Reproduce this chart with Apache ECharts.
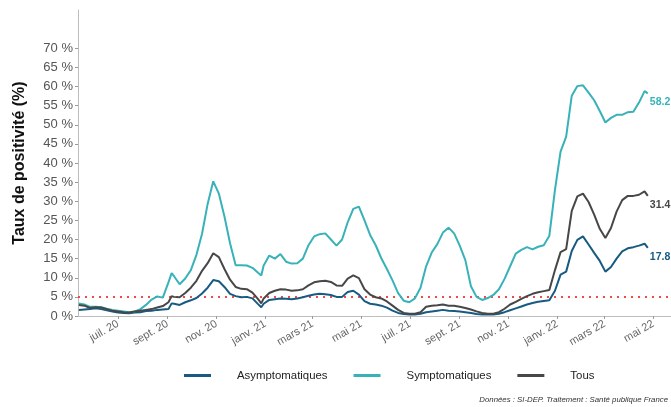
<!DOCTYPE html>
<html><head><meta charset="utf-8">
<script src="https://cdn.jsdelivr.net/npm/echarts@6/dist/echarts.min.js"></script>
<style>html,body{margin:0;padding:0;background:#fff}#c{width:671px;height:407px}</style>
</head><body><div id="c"></div>
<script>
const dates = [
'2020-05-13','2020-05-20','2020-05-27','2020-06-03','2020-06-10','2020-06-17','2020-06-24',
'2020-07-01','2020-07-08','2020-07-15','2020-07-22','2020-07-29','2020-08-05','2020-08-12','2020-08-19','2020-08-26',
'2020-09-02','2020-09-06','2020-09-09','2020-09-16','2020-09-23','2020-09-30','2020-10-07','2020-10-14','2020-10-21','2020-10-28',
'2020-11-04','2020-11-11','2020-11-18','2020-11-25','2020-12-02','2020-12-09','2020-12-16','2020-12-23','2020-12-27','2020-12-30',
'2021-01-06','2021-01-13','2021-01-20','2021-01-27','2021-02-03','2021-02-10','2021-02-17','2021-02-24',
'2021-03-03','2021-03-10','2021-03-17','2021-03-24','2021-03-31','2021-04-07','2021-04-14','2021-04-21','2021-04-28',
'2021-05-05','2021-05-12','2021-05-19','2021-05-26','2021-06-02','2021-06-09','2021-06-16','2021-06-23','2021-06-30',
'2021-07-07','2021-07-14','2021-07-21','2021-07-28','2021-08-04','2021-08-11','2021-08-18','2021-08-25',
'2021-09-01','2021-09-08','2021-09-15','2021-09-22','2021-09-29','2021-10-06','2021-10-13','2021-10-20','2021-10-27',
'2021-11-03','2021-11-10','2021-11-17','2021-11-24','2021-12-01','2021-12-08','2021-12-15','2021-12-22','2021-12-29',
'2022-01-05','2022-01-12','2022-01-19','2022-01-26','2022-02-02','2022-02-09','2022-02-16','2022-02-23',
'2022-03-02','2022-03-09','2022-03-16','2022-03-23','2022-03-30','2022-04-06','2022-04-13','2022-04-20','2022-04-24'
];
const asymptomatiques = [
1.6,1.7,1.8, 2.0,1.8,1.5,1.2, 0.9,0.8,0.7,0.9,1.0, 1.3,1.4,1.6,1.7,
1.8,3.3,3.2,2.9,3.6,4.1, 4.7,5.9,7.4,9.4, 9.1,7.6,5.8,5.2, 4.9,5.0,4.6,3.1,2.3,3.2,
4.2,4.4,4.6,4.5, 4.4,4.6,4.9,5.3, 5.6,5.8,5.7,5.5,5.0, 5.0,6.3,6.6,5.6,
3.9,3.2,3.0,2.7, 2.2,1.4,0.8,0.5,0.4, 0.4,0.6,1.0,1.2, 1.4,1.6,1.4,1.3,
1.2,1.0,0.8,0.5,0.4, 0.4,0.4,0.6,1.0, 1.5,2.0,2.5,3.0, 3.4,3.7,3.9,4.1,6.6,
10.8,11.6,17.0,19.9, 20.8,18.7,16.5,14.4, 11.6,12.8,15.0,16.9,17.7, 18.0,18.4,18.9,17.8
];
const symptomatiques = [
3.3,3.0,2.4, 2.4,2.3,1.9,1.6, 1.4,1.2,1.0,1.2,1.8, 2.9,4.3,5.1,4.8,
8.8,11.2,10.4,8.3,9.8,12.0, 16.0,21.5,29.3,35.2, 32.0,26.0,19.0,13.3, 13.3,13.2,12.6,11.3,10.6,13.2,
15.8,15.0,16.2,14.2, 13.7,13.8,15.0,18.5, 20.8,21.4,21.6,20.0,18.4, 20.0,24.5,28.0,28.6,
25.0,21.2,18.5,15.1, 12.3,9.3,6.0,4.0,3.6, 4.6,7.4,13.0,16.6, 18.8,21.8,23.1,21.6,
18.4,14.6,7.8,5.0,4.2, 4.7,5.5,7.0,9.7, 13.0,16.3,17.3,18.0, 17.4,18.1,18.5,21.0,33.0,
43.0,46.9,57.6,60.1, 60.3,58.4,56.4,53.6, 50.6,51.8,52.6,52.6,53.3, 53.4,55.8,58.8,58.2
];
const tous = [
2.9,2.7,2.1, 2.3,2.2,1.8,1.4, 1.2,1.0,0.9,1.2,1.4, 1.6,1.8,2.2,2.6,
3.6,5.2,5.0,4.9,6.0,7.4, 9.2,11.8,13.8,16.4, 15.4,12.3,9.5,7.6, 7.1,7.0,6.1,4.4,3.3,4.6,
6.0,6.6,7.0,6.9, 6.6,6.7,7.0,8.0, 8.8,9.1,9.2,8.9,8.0, 7.9,9.8,10.6,9.9,
7.0,5.6,4.9,4.6, 3.8,2.7,1.6,0.8,0.6, 0.6,1.0,2.4,2.7, 2.8,3.0,2.7,2.7,
2.4,2.1,1.7,1.2,0.8, 0.6,0.6,1.0,1.9, 3.0,3.7,4.5,5.2, 5.8,6.2,6.5,6.8,12.0,
16.7,17.5,27.5,31.3, 32.0,29.8,26.5,22.8, 20.4,23.0,27.3,30.3,31.4, 31.4,31.7,32.6,31.4
];
const seriesNames = ['Asymptomatiques', 'Symptomatiques', 'Tous'];
const seriesColors = ['#175a82', '#38b2b8', '#474747'];
const xTickDates = ['2020-07-01','2020-09-01','2020-11-01','2021-01-01','2021-03-01','2021-05-01',
                    '2021-07-01','2021-09-01','2021-11-01','2022-01-01','2022-03-01','2022-05-01'];
const xTickLabels = ['juil. 20','sept. 20','nov. 20','janv. 21','mars 21','mai 21',
                     'juil. 21','sept. 21','nov. 21','janv. 22','mars 22','mai 22'];
const yTickValues = [0,5,10,15,20,25,30,35,40,45,50,55,60,65,70];
const threshold = 5;
const yAxisTitle = 'Taux de positivité (%)';
const caption = 'Données : SI-DEP. Traitement : Santé publique France';

const ts = s => { const [y, m, d] = s.split('-').map(Number); return Date.UTC(y, m - 1, d); };
const xTickTs = xTickDates.map(ts);
const toData = vals => dates.map((d, i) => [ts(d), vals[i]]);
const valuesList = [asymptomatiques, symptomatiques, tous];
const FONT = 'Liberation Sans, Arial, sans-serif';

const chart = echarts.init(document.getElementById('c'), null, { renderer: 'canvas' });
chart.setOption({
  backgroundColor: '#ffffff',
  animation: false,
  textStyle: { fontFamily: FONT },
  title: {
    text: caption, right: 3, top: 396, padding: 0,
    textStyle: { fontSize: 7.8, fontStyle: 'italic', fontWeight: 'normal', color: '#333', fontFamily: FONT }
  },
  grid: { left: 78, right: 0, top: 10, bottom: 91, containLabel: false },
  legend: {
    data: seriesNames, left: 184, top: 370, padding: 0, icon: 'rect', itemWidth: 27, itemHeight: 3, itemGap: 26,
    textStyle: { fontSize: 11.4, color: '#222', padding: [0, 0, 0, 21], fontFamily: FONT }
  },
  xAxis: {
    type: 'value',
    min: ts('2020-05-12'), max: ts('2022-05-23'),
    splitLine: { show: false },
    axisLine: { show: true, lineStyle: { color: '#bdbdbd', width: 1 } },
    axisTick: { show: true, length: 3, lineStyle: { color: '#999' }, customValues: xTickTs },
    axisLabel: {
      customValues: xTickTs, rotate: 30, fontSize: 11, color: '#666', margin: 7,
      formatter: v => { const i = xTickTs.indexOf(v); return i >= 0 ? xTickLabels[i] : ''; }
    }
  },
  yAxis: {
    type: 'value', min: 0, max: 80,
    name: yAxisTitle, nameLocation: 'middle', nameGap: 50,
    nameTextStyle: { fontSize: 16, fontWeight: 'bold', color: '#111', fontFamily: FONT },
    splitLine: { show: false },
    axisLine: { show: true, lineStyle: { color: '#bdbdbd', width: 1 } },
    axisTick: { show: true, length: 3, lineStyle: { color: '#999' }, customValues: yTickValues },
    axisLabel: { customValues: yTickValues, fontSize: 13, color: '#555', margin: 5, formatter: v => v + ' %' }
  },
  series: seriesNames.map((name, i) => ({
    name, type: 'line', data: toData(valuesList[i]), showSymbol: false, symbol: 'none',
    color: seriesColors[i],
    lineStyle: { width: 2, color: seriesColors[i] },
    z: 3 + i,
    endLabel: {
      show: true, distance: 2, offset: [0, 9], fontSize: 10.5, fontWeight: 'bold', color: seriesColors[i],
      formatter: p => p.value[1].toFixed(1)
    },
    markLine: i === 0 ? {
      silent: true, symbol: 'none', label: { show: false },
      lineStyle: { color: '#f24848', type: [2, 5], width: 2 },
      data: [{ yAxis: threshold }], z: 1
    } : undefined
  }))
});
</script></body></html>
